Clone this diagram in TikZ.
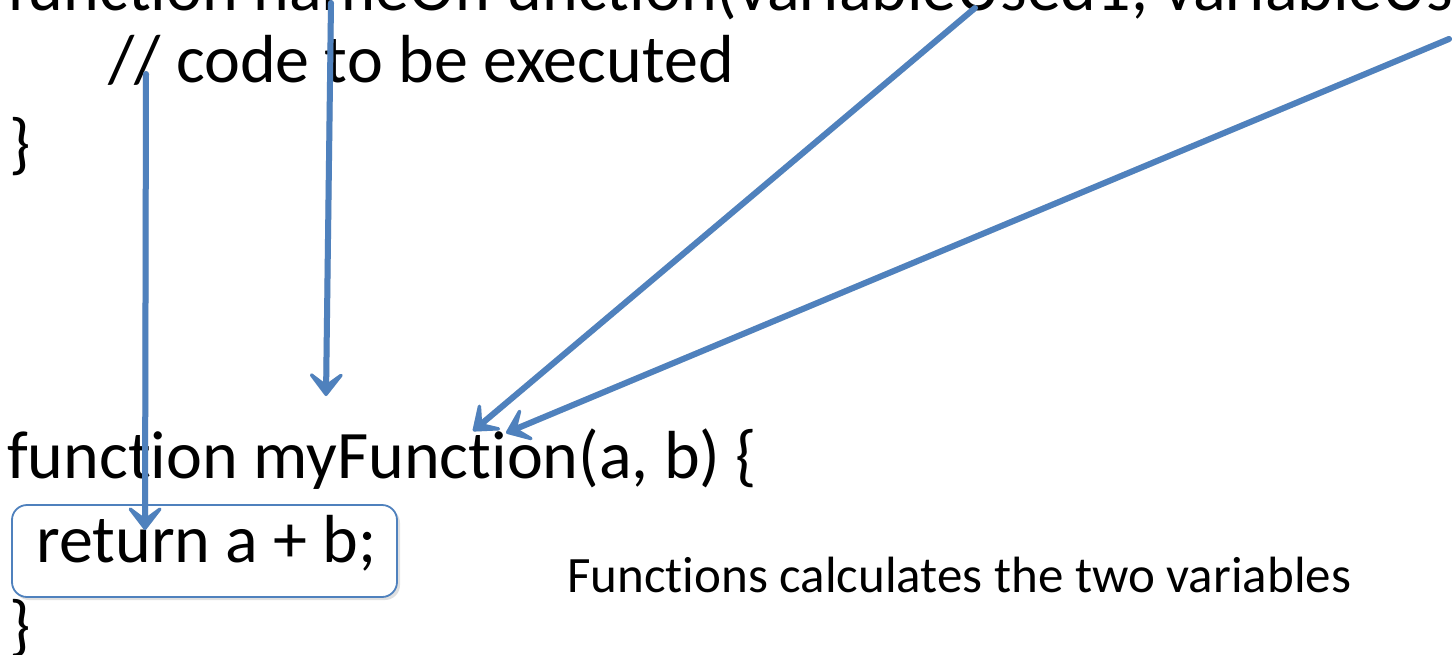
\documentclass[tikz,border=0pt]{standalone}
\usepackage{fontspec}
\setmainfont{Carlito}[Ligatures={NoCommon,NoRequired,NoContextual,NoRare,NoDiscretionary}]
\usetikzlibrary{arrows.meta}
\definecolor{officeblue}{HTML}{4F81BD}
\tikzset{
  barbtip/.style={-{Stealth[length=30pt,width=46pt,inset=17pt,round]}},
  codetext/.style={anchor=base west, inner sep=0pt, font=\fontsize{68}{80}\selectfont},
  notetext/.style={anchor=base west, inner sep=0pt, font=\fontsize{51}{60}\selectfont},
  pointer/.style={draw=officeblue, line width=6pt, line cap=round, barbtip},
  pointershadow/.style={draw=black!35, opacity=0.35, line width=6pt, line cap=round, barbtip},
  codebox/.style={draw=officeblue, line width=1.8pt, rounded corners=15pt}
}
\begin{document}
\begin{tikzpicture}[x=1pt,y=-1pt]
\useasboundingbox (0,0) rectangle (1455,654);
\clip (0,0) rectangle (1455,654);
\fill[white] (0,0) rectangle (1455,654);
% texts
\node[codetext] (sig) at (7,10) {function nameOfFunction(variableUsed1, variableUsed2) \{};
\node[codetext] (comment) at (108,82) {// code to be executed};
\node[codetext] (close1) at (9,166) {\}};
\node[codetext] (decl) at (7,478) {function myFunction(a, b) \{};
% box with shadow
\fill[black!30, opacity=0.4, rounded corners=15pt] (14,508) rectangle (400,600);
\fill[white, rounded corners=15pt] (12,505) rectangle (397,597);
\draw[codebox] (12,505) rectangle (397,597);
\node[codetext] (ret) at (36,562) {return a + b;};
\node[codetext] (close2) at (9,648) {\}};
\node[notetext] (note) at (567,592) {Functions calculates the two variables};
% arrow end points
\coordinate (s1) at (146,74);
\coordinate (e1) at (145,530);
\coordinate (s2) at (331,3);
\coordinate (e2) at (326,396);
\coordinate (s3) at (975,8);
\coordinate (e3) at (473,431);
\coordinate (s4) at (1449,39);
\coordinate (e4) at (506,433);
% shadows
\begin{scope}[shift={(2,2.5)}]
\draw[pointershadow] (s1) -- (e1);
\draw[pointershadow] (s2) -- (e2);
\draw[pointershadow] (s3) -- (e3);
\draw[pointershadow] (s4) -- (e4);
\end{scope}
\draw[pointer] (s1) -- (e1);
\draw[pointer] (s2) -- (e2);
\draw[pointer] (s3) -- (e3);
\draw[pointer] (s4) -- (e4);
\end{tikzpicture}
\end{document}
